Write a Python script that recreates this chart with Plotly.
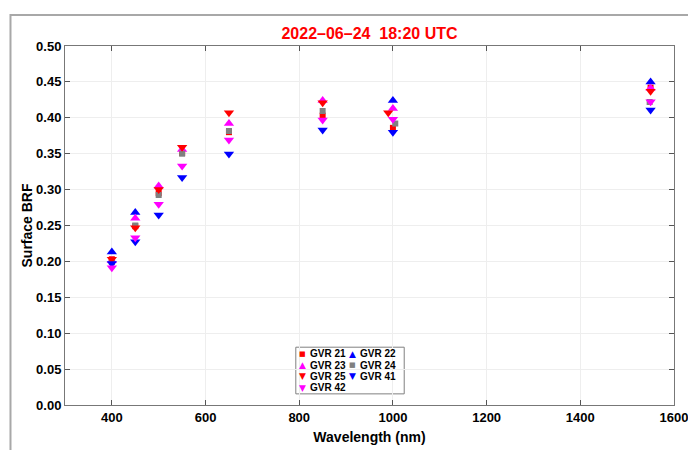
import plotly.graph_objects as go

# ---- data ----
wavelength = [400, 450, 500, 550, 650, 850, 1000, 1550]
wavelength_gvr24 = [400, 450, 500, 550, 650, 850, 1005, 1548]
wavelength_gvr25 = [400, 450, 500, 550, 650, 850, 990, 1550]

series_names = ["GVR 21", "GVR 22", "GVR 23", "GVR 24", "GVR 25", "GVR 41", "GVR 42"]
gvr21 = [0.203, 0.249, 0.295, 0.351, 0.380, 0.403, 0.386, 0.442]
gvr22 = [0.213, 0.268, None, None, None, None, 0.424, 0.450]
gvr23 = [0.201, 0.260, 0.305, 0.356, 0.392, 0.424, 0.413, 0.441]
gvr24 = [0.199, 0.250, 0.2925, 0.350, 0.3816, 0.4095, 0.392, 0.422]
gvr25 = [0.203, 0.247, 0.300, 0.359, 0.407, 0.421, 0.407, 0.437]
gvr41 = [0.197, 0.2275, 0.2646, 0.317, 0.3496, 0.383, 0.380, 0.411]
gvr42 = [0.191, 0.233, 0.2795, 0.333, 0.369, 0.397, 0.398, 0.4224]

x_ticks = [400, 600, 800, 1000, 1200, 1400, 1600]
y_ticks = [0.00, 0.05, 0.10, 0.15, 0.20, 0.25, 0.30, 0.35, 0.40, 0.45, 0.50]

# ---- styles ----
styles = {
    "GVR 21": dict(symbol="square", color="#FF0000", size=6, glyph="\u25A0", gsize=7),
    "GVR 22": dict(symbol="triangle-up", color="#0000FF", size=9, glyph="\u25B2", gsize=9),
    "GVR 23": dict(symbol="triangle-up", color="#FF00FF", size=9, glyph="\u25B2", gsize=9),
    "GVR 24": dict(symbol="square", color="#808080", size=6, glyph="\u25A0", gsize=7),
    "GVR 25": dict(symbol="triangle-down", color="#FF0000", size=9, glyph="\u25BC", gsize=9),
    "GVR 41": dict(symbol="triangle-down", color="#0000FF", size=9, glyph="\u25BC", gsize=9),
    "GVR 42": dict(symbol="triangle-down", color="#FF00FF", size=9, glyph="\u25BC", gsize=9),
}
data = {
    "GVR 21": (wavelength, gvr21),
    "GVR 22": (wavelength, gvr22),
    "GVR 23": (wavelength, gvr23),
    "GVR 24": (wavelength_gvr24, gvr24),
    "GVR 25": (wavelength_gvr25, gvr25),
    "GVR 41": (wavelength, gvr41),
    "GVR 42": (wavelength, gvr42),
}

FONT = "Liberation Sans, Arial, sans-serif"

fig = go.Figure()
for name in series_names:
    xs, ys = data[name]
    st = styles[name]
    fig.add_trace(go.Scatter(
        x=xs, y=ys, mode="markers", name=name, showlegend=False,
        marker=dict(symbol=st["symbol"], color=st["color"], size=st["size"], line=dict(width=0)),
    ))

axis_common = dict(
    showline=True, linecolor="#777777", linewidth=1, mirror="ticks",
    ticks="inside", ticklen=5, tickcolor="#555555",
    showgrid=True, gridcolor="#EEEEEE", gridwidth=1, zeroline=False,
    automargin=False, ticklabeloverflow="allow",
    tickfont=dict(family=FONT, size=13, color="black", weight="bold"),
)

fig.update_xaxes(range=[300, 1600], tickvals=x_ticks, ticktext=[str(v) for v in x_ticks],
                 title=dict(text="Wavelength (nm)", font=dict(family=FONT, size=14, color="black", weight="bold"), standoff=8),
                 **axis_common)
fig.update_yaxes(range=[0, 0.5], tickvals=y_ticks, ticktext=[f"{v:.2f}" for v in y_ticks],
                 title=dict(text="Surface BRF", font=dict(family=FONT, size=14, color="black", weight="bold"), standoff=0),
                 **axis_common)

# legend built as text (compact two-column layout): glyph + label per entry
legend_order = ["GVR 21", "GVR 22", "GVR 23", "GVR 24", "GVR 25", "GVR 41", "GVR 42"]
GLYPH_X = [0.390, 0.4713]         # paper x (centre) of the glyphs per column
TEXT_X = [0.3982, 0.4811]         # paper x (left) of the labels per column
LEG_Y0, LEG_DY = 0.1421, 0.0312   # paper y of first row and row step

annotations = []
for i, n in enumerate(legend_order):
    col, row = i % 2, i // 2
    yy = LEG_Y0 - row * LEG_DY
    annotations.append(dict(
        xref="paper", yref="paper", x=GLYPH_X[col], y=yy,
        xanchor="center", yanchor="middle", showarrow=False,
        text=styles[n]["glyph"],
        font=dict(family="DejaVu Sans", size=styles[n]["gsize"], color=styles[n]["color"]),
    ))
    annotations.append(dict(
        xref="paper", yref="paper", x=TEXT_X[col], y=yy,
        xanchor="left", yanchor="middle", align="left", showarrow=False,
        text=n,
        font=dict(family=FONT, size=10, color="black", weight="bold"),
    ))

shapes = [
    # legend box
    dict(type="rect", xref="paper", yref="paper", x0=0.379, x1=0.557, y0=0.031, y1=0.161,
         line=dict(color="#808080", width=1), fillcolor="white", layer="below"),
    # outer gray frame
    dict(type="rect", xref="paper", yref="paper", x0=-0.0895, x1=1.3, y0=-0.4, y1=1.0864,
         line=dict(color="#A8A8A8", width=2), fillcolor="rgba(0,0,0,0)", layer="below"),
]

fig.update_layout(
    width=688, height=450,
    margin=dict(l=65, r=14, t=46, b=45, autoexpand=False),
    paper_bgcolor="white", plot_bgcolor="white",
    title=dict(text="2022\u201306\u201324\u00a0\u00a018:20 UTC", x=0.5, xref="paper",
               y=1 - 33 / 450, yref="container", xanchor="center", yanchor="middle",
               font=dict(family=FONT, size=16, color="#FF0000", weight="bold")),
    annotations=annotations,
    shapes=shapes,
    showlegend=False,
)

fig.write_html("out.html")
